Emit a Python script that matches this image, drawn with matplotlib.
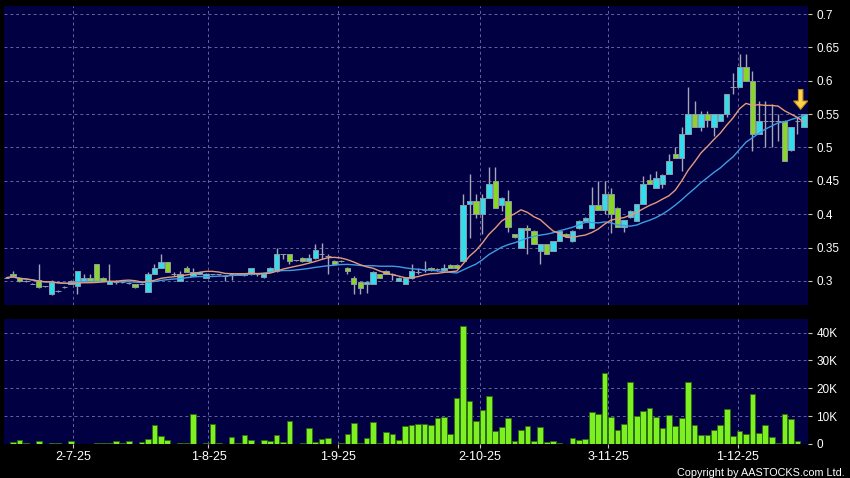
import matplotlib
matplotlib.use("Agg")
import matplotlib.pyplot as plt
import numpy as np
import pandas as pd

# ---- data (one entry per trading day, left to right) ----
opens = [0.305,0.311,0.305,0.300,0.296,0.301,0.292,0.280,0.285,0.291,
         0.296,0.292,0.300,0.305,0.325,0.305,0.296,0.298,0.298,0.297,
         0.296,0.296,0.284,0.310,0.320,0.329,0.310,0.300,0.320,0.307,
         0.311,0.305,0.310,0.310,0.308,0.310,0.311,0.309,0.310,0.310,
         0.306,0.314,0.315,0.340,0.340,0.331,0.335,0.330,0.335,0.340,
         0.337,0.330,0.330,0.320,0.305,0.299,0.296,0.295,0.310,0.315,
         0.310,0.300,0.295,0.305,0.313,0.316,0.320,0.318,0.316,0.324,
         0.324,0.330,0.415,0.420,0.400,0.425,0.450,0.414,0.420,0.370,
         0.350,0.380,0.375,0.345,0.355,0.345,0.360,0.370,0.360,0.380,
         0.390,0.380,0.414,0.406,0.430,0.410,0.381,0.396,0.390,0.415,
         0.451,0.440,0.445,0.460,0.490,0.485,0.520,0.550,0.530,0.550,
         0.530,0.540,0.550,0.590,0.590,0.620,0.600,0.520,0.540,0.540,
         0.540,0.540,0.496,0.540,0.530]
highs = [0.306,0.315,0.306,0.301,0.297,0.325,0.293,0.301,0.287,0.292,
         0.301,0.315,0.310,0.310,0.325,0.306,0.325,0.301,0.299,0.298,
         0.296,0.297,0.314,0.325,0.340,0.329,0.313,0.315,0.322,0.320,
         0.314,0.312,0.311,0.311,0.309,0.311,0.312,0.311,0.320,0.311,
         0.311,0.321,0.350,0.341,0.340,0.332,0.336,0.340,0.355,0.357,
         0.340,0.331,0.331,0.321,0.307,0.300,0.300,0.315,0.311,0.316,
         0.312,0.306,0.306,0.325,0.320,0.330,0.321,0.320,0.325,0.325,
         0.325,0.431,0.460,0.431,0.431,0.471,0.471,0.426,0.436,0.371,
         0.380,0.384,0.376,0.356,0.356,0.360,0.375,0.372,0.376,0.391,
         0.396,0.441,0.450,0.450,0.440,0.411,0.392,0.406,0.416,0.457,
         0.461,0.465,0.460,0.490,0.500,0.530,0.590,0.570,0.555,0.555,
         0.550,0.550,0.580,0.611,0.640,0.640,0.615,0.570,0.570,0.565,
         0.550,0.541,0.530,0.546,0.550]
lows = [0.304,0.306,0.299,0.299,0.295,0.290,0.291,0.279,0.284,0.290,
        0.295,0.281,0.300,0.300,0.300,0.300,0.295,0.296,0.297,0.296,
        0.290,0.295,0.284,0.310,0.320,0.313,0.308,0.300,0.314,0.307,
        0.310,0.304,0.309,0.309,0.300,0.302,0.309,0.308,0.309,0.308,
        0.305,0.313,0.314,0.333,0.326,0.330,0.329,0.329,0.333,0.333,
        0.310,0.325,0.329,0.310,0.280,0.281,0.282,0.295,0.305,0.310,
        0.302,0.300,0.295,0.303,0.310,0.314,0.315,0.315,0.315,0.320,
        0.320,0.330,0.365,0.395,0.370,0.425,0.410,0.405,0.374,0.365,
        0.350,0.340,0.355,0.325,0.340,0.345,0.360,0.366,0.358,0.378,
        0.388,0.380,0.406,0.400,0.372,0.381,0.373,0.395,0.390,0.415,
        0.445,0.440,0.440,0.460,0.485,0.465,0.520,0.530,0.525,0.530,
        0.517,0.540,0.545,0.580,0.590,0.600,0.495,0.520,0.500,0.500,
        0.510,0.480,0.495,0.520,0.530]
closes = [0.305,0.307,0.300,0.300,0.296,0.291,0.292,0.299,0.285,0.291,
          0.300,0.315,0.305,0.300,0.300,0.300,0.300,0.298,0.298,0.297,
          0.291,0.296,0.310,0.320,0.329,0.314,0.310,0.310,0.314,0.314,
          0.313,0.310,0.310,0.310,0.308,0.310,0.309,0.311,0.320,0.310,
          0.310,0.320,0.340,0.340,0.330,0.331,0.330,0.335,0.346,0.340,
          0.337,0.325,0.330,0.315,0.295,0.290,0.299,0.314,0.305,0.310,
          0.310,0.305,0.305,0.315,0.313,0.316,0.316,0.318,0.320,0.320,
          0.320,0.414,0.420,0.400,0.425,0.445,0.410,0.425,0.381,0.366,
          0.380,0.376,0.355,0.355,0.340,0.360,0.375,0.367,0.375,0.390,
          0.395,0.414,0.406,0.430,0.400,0.381,0.391,0.405,0.415,0.445,
          0.445,0.455,0.459,0.480,0.485,0.520,0.550,0.530,0.550,0.541,
          0.550,0.550,0.580,0.590,0.620,0.600,0.520,0.540,0.540,0.540,
          0.540,0.480,0.530,0.540,0.550]
volumes_k = [0,0.6,1.4,0.3,0,1.2,0,0.5,0.2,0,
             1.2,0,0.1,0.1,0.2,0.5,0.5,1.1,0.2,1.1,
             0.1,0.7,1.9,6.8,3.0,1.5,0.1,0.5,0.2,10.7,
             0.1,0.3,7.3,0.3,0.1,2.5,0.3,3.3,1.4,0.1,
             1.4,1.1,3.2,0.8,8.2,0.1,0.3,5.8,0.7,1.9,
             2.3,0.1,0.2,3.6,7.5,0.3,2.1,8.0,0.3,4.4,
             3.5,1.3,6.4,6.8,7.1,7.1,7.0,9.4,9.6,3.6,
             16.6,42.5,15.6,8.2,12.2,17.2,4.8,6.0,9.4,1.2,
             5.2,6.5,1.2,6.0,0.8,1.2,0.2,0.1,2.2,1.3,
             1.8,11.5,10.7,25.6,9.7,5.2,7.3,22.3,10.0,11.9,
             13.0,9.8,5.9,10.4,6.6,9.2,22.1,6.8,3.4,3.1,
             5.2,6.8,12.4,3.0,4.6,3.7,17.8,4.1,6.8,2.4,
             0.5,10.8,8.9,1.0,0]
date_labels = ["2-7-25", "1-8-25", "1-9-25", "2-10-25", "3-11-25", "1-12-25"]
date_label_pos = [10.3, 31.4, 51.6, 73.6, 93.6, 113.7]
price_ticks = [0.3, 0.35, 0.4, 0.45, 0.5, 0.55, 0.6, 0.65, 0.7]
price_tick_labels = ["0.3", "0.35", "0.4", "0.45", "0.5", "0.55", "0.6", "0.65", "0.7"]
vol_ticks = [0, 10000, 20000, 30000, 40000]
vol_tick_labels = ["0", "10K", "20K", "30K", "40K"]

# ---- style ----
BG = "#000042"
GRID = "#6464a0"
UP = "#33dcec"
DOWN = "#8ad624"
VOL = "#7cf020"
WICK = "#a6a6b4"
FONT = "Liberation Sans"

o = np.array(opens); h = np.array(highs); l = np.array(lows); c = np.array(closes)
v = np.array(volumes_k) * 1000
x = np.arange(len(c))
ma10 = pd.Series(c).rolling(10, min_periods=1).mean()
ma20 = pd.Series(c).rolling(20, min_periods=1).mean()

fig = plt.figure(figsize=(8.5, 4.78), dpi=100, facecolor="black")
W, H = 850, 478
ax = fig.add_axes([4 / W, 1 - 305 / H, 804 / W, 299 / H], facecolor=BG)
axv = fig.add_axes([4 / W, 1 - 444 / H, 804 / W, 125 / H], facecolor=BG)

for a in (ax, axv):
    for s in a.spines.values():
        s.set_visible(False)
    a.set_xlim(-0.4, 124.64)
    a.set_xticks(date_label_pos)
    a.grid(True, color=GRID, linestyle=(0, (3, 3)), linewidth=0.7)
    a.set_axisbelow(True)
    a.yaxis.tick_right()
    a.tick_params(axis="y", colors="#c8c8c8", length=3, width=0.8, pad=3,
                  labelsize=8.5, labelcolor="white")

# price panel
ax.set_ylim(0.264, 0.712)
ax.set_yticks(price_ticks)
ax.set_yticklabels(price_tick_labels, fontfamily=FONT)
ax.tick_params(axis="x", length=0, labelbottom=False)

ax.vlines(x, l, h, color=WICK, linewidth=1, zorder=2)
body_bot = np.minimum(o, c)
body_h = np.abs(c - o)
colors = np.where(c > o, UP, np.where(c < o, DOWN, WICK))
ax.bar(x, body_h, bottom=body_bot, width=0.84, color=colors,
       edgecolor="#8c9aa8", linewidth=0.7, zorder=3)
ax.plot(x, ma20, color="#3f9ce2", linewidth=1, zorder=4)
ax.plot(x, ma10, color="#e69a7c", linewidth=1, zorder=4)

ax.annotate("", xy=(123.5, 0.553), xytext=(123.5, 0.591),
            arrowprops=dict(arrowstyle="simple,head_length=0.6,head_width=1.0,tail_width=0.32",
                            fc="#ffd34a", ec="#c8901c", lw=0.8), zorder=6)

# volume panel
axv.set_ylim(0, 44900)
axv.set_yticks(vol_ticks)
axv.set_yticklabels(vol_tick_labels, fontfamily=FONT)
axv.bar(x, v, width=0.88, color=VOL, edgecolor="#2e6a10", linewidth=0.6, zorder=3)
axv.set_xticklabels(date_labels, fontfamily=FONT, fontsize=9, color="white")
axv.tick_params(axis="x", colors="#c8c8c8", length=3, width=0.8, pad=2, labelcolor="white")

fig.text(845 / W, 1 - 476.5 / H, "Copyright by AASTOCKS.com Ltd.", ha="right", va="baseline",
         color="white", fontsize=7.8, fontfamily=FONT)

fig.savefig("out.png", dpi=100, facecolor="black")
